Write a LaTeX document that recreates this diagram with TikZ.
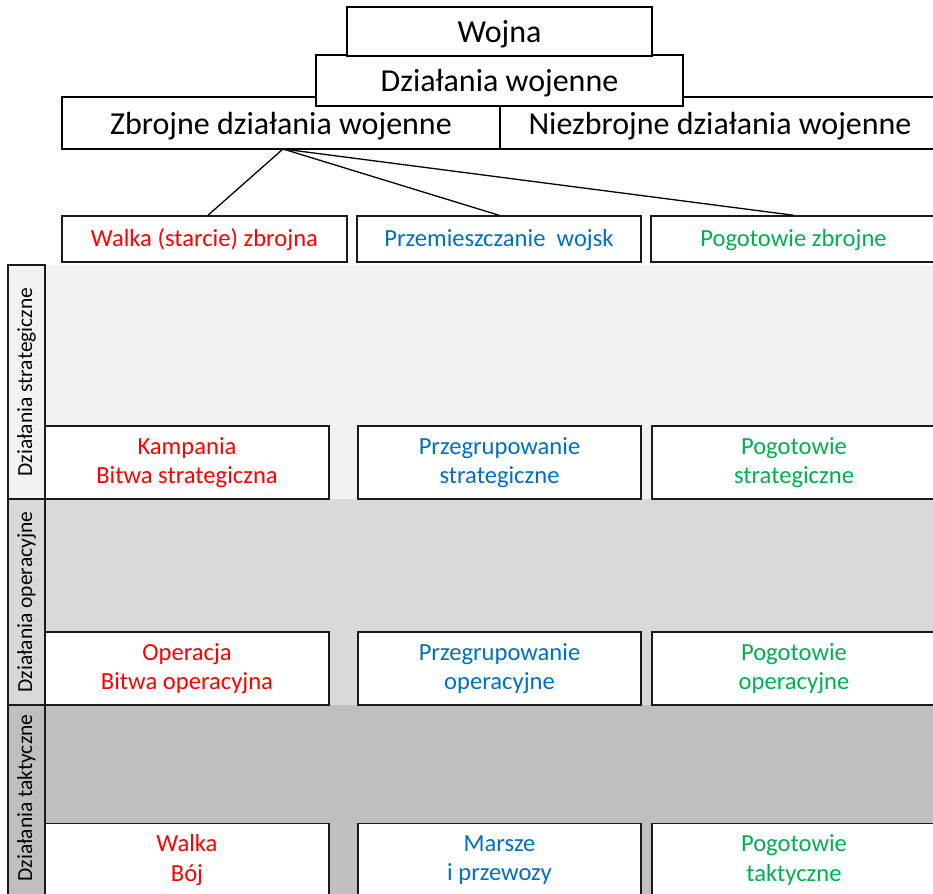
\documentclass[tikz,border=0pt]{standalone}
\usepackage{fontspec}
\setmainfont{Carlito}
\definecolor{cRed}{HTML}{FF0000}
\definecolor{cBlue}{HTML}{0070C0}
\definecolor{cGreen}{HTML}{00B050}
\definecolor{bandA}{HTML}{F2F2F2}
\definecolor{bandB}{HTML}{D9D9D9}
\definecolor{bandC}{HTML}{BFBFBF}
\definecolor{edge}{HTML}{1A1A1A}
\tikzset{
  topbox/.style={draw=black, line width=1.2pt, fill=white, inner sep=0pt,
    text height=23pt, text depth=0pt, font=\fontsize{32}{37}\selectfont},
  kindbox/.style={draw=edge, line width=1.5pt, fill=white, inner sep=0pt,
    minimum height=46pt, text height=18pt, text depth=2pt,
    font=\fontsize{24.6}{29.5}\selectfont},
  levelbox/.style={draw=edge, line width=1.8pt, fill=white, inner sep=0pt,
    minimum height=73pt, align=center, font=\fontsize{24.6}{29.5}\selectfont},
  bandlabel/.style={draw=edge, line width=1.5pt, inner sep=0pt, minimum width=37pt},
  bandtext/.style={rotate=90, inner sep=0pt, font=\fontsize{21.5}{25}\selectfont},
  link/.style={draw=black, line width=1.3pt}
}
\begin{document}
\begin{tikzpicture}[x=1pt, y=-1pt]
\useasboundingbox (0,0) rectangle (933,893);
\clip (0,0) rectangle (933,893);
\fill[white] (0,0) rectangle (933,893);

% level bands
\fill[bandA] (8,265) rectangle (940,499);
\fill[bandB] (8,499) rectangle (940,705);
\fill[bandC] (8,705) rectangle (940,900);
\node[bandlabel, fill=bandA, minimum height=234pt] (lblS) at (26.5,382) {};
\node[bandlabel, fill=bandB, minimum height=206pt] (lblO) at (26.5,602) {};
\node[bandlabel, fill=bandC, minimum height=195pt] (lblT) at (26.5,802.5) {};
\node[bandtext] (tS) at (lblS.center) {Działania strategiczne};
\node[bandtext] (tO) at (lblO.center) {Działania operacyjne};
\node[bandtext] (tT) at (26.5,798) {Działania taktyczne};

% hierarchy at the top
\node[topbox, minimum width=438pt, minimum height=52pt] (zbr) at (281,123) {Zbrojne działania wojenne};
\node[topbox, minimum width=440pt, minimum height=52pt] (niez) at (720,123) {Niezbrojne działania wojenne};
\node[topbox, minimum width=367pt, minimum height=51pt] (dzw) at (499.5,80.5) {Działania wojenne};
\node[topbox, minimum width=305pt, minimum height=49pt] (wojna) at (499.5,31.5) {Wojna};

% kinds of armed action
\node[kindbox, minimum width=285pt, text=cRed] (walka) at (204.5,239) {Walka (starcie) zbrojna};
\node[kindbox, minimum width=284pt, text=cBlue] (przem) at (499,239) {Przemieszczanie\ \ wojsk};
\node[kindbox, minimum width=285pt, text=cGreen] (pogz) at (793.5,239) {Pogotowie zbrojne};

\coordinate (hub) at (283,149);
\draw[link] (hub) -- (walka.north -| 208,0);
\draw[link] (hub) -- (przem.north);
\draw[link] (hub) -- (pogz.north);

% strategic level
\node[levelbox, minimum width=284pt, text=cRed] (s1) at (187,462.5) {Kampania\\Bitwa strategiczna};
\node[levelbox, minimum width=283pt, text=cBlue] (s2) at (499.5,462.5) {Przegrupowanie\\strategiczne};
\node[levelbox, minimum width=284pt, text=cGreen] (s3) at (794,462.5) {Pogotowie\\strategiczne};

% operational level
\node[levelbox, minimum width=284pt, text=cRed] (o1) at (187,668.5) {Operacja\\Bitwa operacyjna};
\node[levelbox, minimum width=283pt, text=cBlue] (o2) at (499.5,668.5) {Przegrupowanie\\operacyjne};
\node[levelbox, minimum width=284pt, text=cGreen] (o3) at (794,668.5) {Pogotowie\\operacyjne};

% tactical level
\node[levelbox, minimum width=284pt, text=cRed] (t1) at (187,860) {Walka\\Bój};
\node[levelbox, minimum width=283pt, text=cBlue] (t2) at (499.5,860) {Marsze\\i przewozy};
\node[levelbox, minimum width=284pt, text=cGreen] (t3) at (794,860) {Pogotowie\\taktyczne};
\end{tikzpicture}
\end{document}
